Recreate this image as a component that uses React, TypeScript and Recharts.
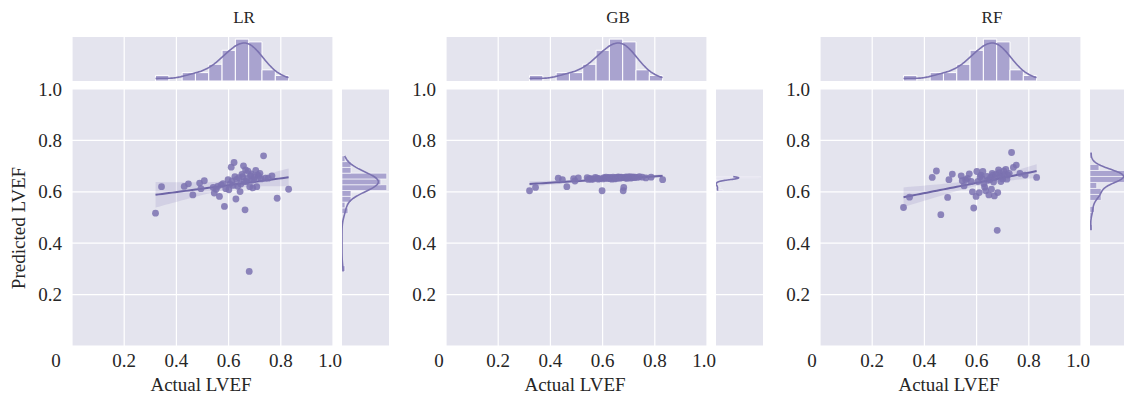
import {
  ComposedChart,
  Scatter,
  Line,
  Area,
  XAxis,
  YAxis,
  CartesianGrid,
  ReferenceArea,
} from "recharts";

// ──────────────────────────────────────────────
// Data
// ──────────────────────────────────────────────

const models = ["LR", "GB", "RF"];

const actualLVEF = [
  0.32, 0.343, 0.43, 0.446, 0.463, 0.489, 0.494, 0.507, 0.541, 0.545,
  0.552, 0.558, 0.565, 0.572, 0.579, 0.584, 0.589, 0.598, 0.601, 0.605,
  0.61, 0.613, 0.617, 0.621, 0.624, 0.628, 0.631, 0.635, 0.64, 0.644,
  0.647, 0.651, 0.654, 0.657, 0.66, 0.663, 0.665, 0.668, 0.671, 0.674,
  0.679, 0.681, 0.684, 0.687, 0.69, 0.693, 0.697, 0.7, 0.704, 0.708,
  0.712, 0.716, 0.72, 0.725, 0.734, 0.741, 0.752, 0.766, 0.786, 0.83,
];

const predLR = [
  0.517, 0.62, 0.621, 0.631, 0.588, 0.634, 0.612, 0.643, 0.617, 0.595,
  0.61, 0.621, 0.582, 0.627, 0.632, 0.543, 0.612, 0.647, 0.608, 0.63,
  0.696, 0.642, 0.625, 0.714, 0.659, 0.572, 0.648, 0.622, 0.655, 0.601,
  0.63, 0.668, 0.659, 0.701, 0.64, 0.53, 0.685, 0.64, 0.652, 0.68,
  0.29, 0.62, 0.663, 0.67, 0.645, 0.615, 0.648, 0.658, 0.683, 0.62,
  0.666, 0.66, 0.672, 0.65, 0.74, 0.653, 0.653, 0.662, 0.575, 0.61,
];

const predGB = [
  0.604, 0.617, 0.653, 0.647, 0.62, 0.651, 0.642, 0.654, 0.655, 0.648,
  0.652, 0.648, 0.65, 0.656, 0.653, 0.649, 0.651, 0.604, 0.65, 0.655,
  0.653, 0.657, 0.652, 0.654, 0.656, 0.651, 0.655, 0.649, 0.657, 0.653,
  0.65, 0.656, 0.652, 0.655, 0.658, 0.654, 0.656, 0.653, 0.657, 0.655,
  0.604, 0.617, 0.656, 0.654, 0.658, 0.652, 0.657, 0.655, 0.659, 0.653,
  0.656, 0.658, 0.655, 0.657, 0.656, 0.659, 0.657, 0.654, 0.657, 0.647,
];

const predRF = [
  0.539, 0.579, 0.656, 0.681, 0.511, 0.578, 0.647, 0.669, 0.662, 0.643,
  0.623, 0.647, 0.652, 0.67, 0.64, 0.6, 0.537, 0.582, 0.679, 0.64,
  0.597, 0.658, 0.665, 0.652, 0.679, 0.63, 0.618, 0.604, 0.66, 0.645,
  0.588, 0.647, 0.657, 0.61, 0.672, 0.665, 0.638, 0.584, 0.655, 0.668,
  0.45, 0.597, 0.685, 0.675, 0.662, 0.64, 0.66, 0.65, 0.681, 0.668,
  0.687, 0.649, 0.665, 0.672, 0.753, 0.695, 0.704, 0.672, 0.665, 0.656,
];

const predictions = [predLR, predGB, predRF];

const xTicks = [0, 0.2, 0.4, 0.6, 0.8, 1.0];
const yTicks = [0.2, 0.4, 0.6, 0.8, 1.0];

// ──────────────────────────────────────────────
// Style / layout
// ──────────────────────────────────────────────

const BG = "#e4e4ee";
const PURPLE = "#7b72b0";
const LINE = "#6d64a6";
const BAR = "#a9a3cf";
const TEXT = "#262626";
const FONT = "'Liberation Serif', 'DejaVu Serif', serif";
const TICK_SIZE = 19;

const PANEL_STEP = 374;
const PLOT_LEFT = 72;
const PLOT_TOP = 89;
const PLOT_W = 261;
const PLOT_H = 257;
const TOP_Y = 37;
const TOP_H = 44;
const SIDE_GAP = 10;
const SIDE_W = 47;
const RIGHT_PAD = 20;
const ZERO_SHIFT = [16, 7, 8];

// ──────────────────────────────────────────────
// Helpers
// ──────────────────────────────────────────────

function mean(a: number[]) {
  return a.reduce((s, v) => s + v, 0) / a.length;
}

function std(a: number[]) {
  const m = mean(a);
  return Math.sqrt(a.reduce((s, v) => s + (v - m) ** 2, 0) / (a.length - 1));
}

function quantile(sorted: number[], q: number) {
  const idx = q * (sorted.length - 1);
  const lo = Math.floor(idx);
  const hi = Math.min(lo + 1, sorted.length - 1);
  return sorted[lo] + (sorted[hi] - sorted[lo]) * (idx - lo);
}

// numpy "auto" bins
function histogram(values: number[]) {
  const sorted = [...values].sort((a, b) => a - b);
  const n = sorted.length;
  const min = sorted[0];
  const max = sorted[n - 1];
  const range = max - min;
  const sturges = range / (Math.log2(n) + 1);
  const iqr = quantile(sorted, 0.75) - quantile(sorted, 0.25);
  const fd = (2 * iqr) / Math.cbrt(n);
  const width = fd > 0 ? Math.min(fd, sturges) : sturges;
  const nb = Math.max(1, Math.ceil(range / width - 1e-9));
  const bw = range / nb;
  const counts = new Array(nb).fill(0);
  for (const v of values) {
    let i = Math.floor((v - min) / bw);
    if (i >= nb) i = nb - 1;
    counts[i] += 1;
  }
  return { bw, bins: counts.map((c, i) => ({ lo: min + i * bw, hi: min + (i + 1) * bw, count: c })) };
}

// gaussian kde (scott), cut at the data range, scaled to counts
function kde(values: number[], scale: number, steps = 120) {
  const n = values.length;
  const h = std(values) * Math.pow(n, -0.2);
  const min = Math.min(...values);
  const max = Math.max(...values);
  const out: { v: number; d: number }[] = [];
  for (let i = 0; i <= steps; i++) {
    const v = min + ((max - min) * i) / steps;
    let s = 0;
    for (const x of values) s += Math.exp(-0.5 * ((v - x) / h) ** 2);
    out.push({ v, d: (s / (n * h * Math.sqrt(2 * Math.PI))) * scale });
  }
  return out;
}

function regressionBand(xs: number[], ys: number[], steps = 40) {
  const n = xs.length;
  const mx = mean(xs);
  const my = mean(ys);
  let sxx = 0;
  let sxy = 0;
  xs.forEach((x, i) => {
    sxx += (x - mx) ** 2;
    sxy += (x - mx) * (ys[i] - my);
  });
  const b = sxy / sxx;
  const a = my - b * mx;
  const sse = xs.reduce((s, x, i) => s + (ys[i] - (a + b * x)) ** 2, 0);
  const s = Math.sqrt(sse / (n - 2));
  const min = Math.min(...xs);
  const max = Math.max(...xs);
  const out = [];
  for (let i = 0; i <= steps; i++) {
    const x = min + ((max - min) * i) / steps;
    const fit = a + b * x;
    const se = s * Math.sqrt(1 / n + (x - mx) ** 2 / sxx);
    out.push({ x, fit, band: [fit - 1.98 * se, fit + 1.98 * se] });
  }
  return out;
}

// ──────────────────────────────────────────────
// Ticks
// ──────────────────────────────────────────────

function renderXTick(props: any, zeroShift: number) {
  const { x, payload } = props;
  const v = payload.value;
  const isZero = v === 0;
  return (
    <text
      x={isZero ? x - zeroShift : v === 1 ? x - 3 : x}
      y={9 + PLOT_H + 21}
      textAnchor="middle"
      fill={TEXT}
      fontSize={TICK_SIZE}
      fontFamily={FONT}
    >
      {isZero ? "0" : v.toFixed(1)}
    </text>
  );
}

function renderYTick(props: any) {
  const { y, payload } = props;
  return (
    <text
      x={PLOT_LEFT - 10}
      y={y + 6.5}
      textAnchor="end"
      fill={TEXT}
      fontSize={TICK_SIZE}
      fontFamily={FONT}
    >
      {payload.value.toFixed(1)}
    </text>
  );
}

const Dot = (p: any) => <circle cx={p.cx} cy={p.cy} r={3.4} fill={PURPLE} fillOpacity={0.85} />;

// ──────────────────────────────────────────────
// Panels
// ──────────────────────────────────────────────

function MainPanel({ ys, idx }: { ys: number[]; idx: number }) {
  const points = actualLVEF.map((x, i) => ({ x, y: ys[i] }));
  const band = regressionBand(actualLVEF, ys);
  const left = PLOT_LEFT + idx * PANEL_STEP;
  return (
    <div style={{ position: "absolute", left: left - PLOT_LEFT, top: PLOT_TOP - 9 }}>
      <ComposedChart
        width={PLOT_LEFT + PLOT_W + RIGHT_PAD}
        height={9 + PLOT_H + 54}
        data={band}
        margin={{ top: 9, right: RIGHT_PAD, bottom: 0, left: 0 }}
      >
        <CartesianGrid fill={BG} fillOpacity={1} stroke="#fff" strokeWidth={1.2} />
        <XAxis
          type="number"
          dataKey="x"
          domain={[0, 1]}
          ticks={xTicks}
          interval={0}
          height={54}
          tickLine={false}
          axisLine={false}
          allowDataOverflow
          tick={(p: any) => renderXTick(p, ZERO_SHIFT[idx])}
        />
        <YAxis
          type="number"
          domain={[0, 1]}
          ticks={yTicks}
          interval={0}
          width={PLOT_LEFT}
          tickLine={false}
          axisLine={false}
          allowDataOverflow
          tick={renderYTick}
        />
        <Area
          type="linear"
          dataKey="band"
          fill={PURPLE}
          fillOpacity={0.17}
          stroke="none"
          isAnimationActive={false}
        />
        <Scatter data={points} dataKey="y" shape={Dot} isAnimationActive={false} />
        <Line
          type="linear"
          dataKey="fit"
          stroke={LINE}
          strokeWidth={2}
          dot={false}
          isAnimationActive={false}
        />
      </ComposedChart>
    </div>
  );
}

function TopMarginal({ idx }: { idx: number }) {
  const { bw, bins } = histogram(actualLVEF);
  const curve = kde(actualLVEF, actualLVEF.length * bw).map((p) => ({ x: p.v, k: p.d }));
  const ymax = Math.max(...bins.map((b) => b.count), ...curve.map((c) => c.k)) * 1.05;
  return (
    <div style={{ position: "absolute", left: PLOT_LEFT + idx * PANEL_STEP, top: TOP_Y }}>
      <ComposedChart width={PLOT_W} height={TOP_H} data={curve} margin={{ top: 0, right: 0, bottom: 0, left: 0 }}>
        <CartesianGrid fill={BG} fillOpacity={1} stroke="#fff" strokeWidth={1.2} horizontal={false} />
        <XAxis type="number" dataKey="x" domain={[0, 1]} ticks={xTicks} interval={0} hide />
        <YAxis type="number" domain={[0, ymax]} hide />
        {bins
          .filter((b) => b.count > 0)
          .map((b, i) => (
            <ReferenceArea
              key={i}
              x1={b.lo}
              x2={b.hi}
              y1={0}
              y2={b.count}
              fill={BAR}
              fillOpacity={1}
              stroke="#fff"
              strokeWidth={1}
              ifOverflow="visible"
            />
          ))}
        <Line type="monotone" dataKey="k" stroke={PURPLE} strokeWidth={1.6} dot={false} isAnimationActive={false} />
      </ComposedChart>
    </div>
  );
}

function SideMarginal({ ys, idx }: { ys: number[]; idx: number }) {
  const { bw, bins } = histogram(ys);
  const curve = kde(ys, ys.length * bw).map((p) => ({ c: p.d, v: p.v }));
  const cmax = Math.max(...bins.map((b) => b.count), ...curve.map((c) => c.c)) * 1.05;
  return (
    <div
      style={{
        position: "absolute",
        left: PLOT_LEFT + idx * PANEL_STEP + PLOT_W + SIDE_GAP - 1,
        top: PLOT_TOP,
      }}
    >
      <ComposedChart width={SIDE_W} height={PLOT_H} data={curve} margin={{ top: 0, right: 0, bottom: 0, left: 0 }}>
        <CartesianGrid fill={BG} fillOpacity={1} stroke="#fff" strokeWidth={1.2} vertical={false} />
        <XAxis type="number" dataKey="c" domain={[0, cmax]} hide />
        <YAxis type="number" domain={[0, 1]} ticks={yTicks} interval={0} hide />
        {bins
          .filter((b) => b.count > 0)
          .map((b, i) => (
            <ReferenceArea
              key={i}
              x1={0}
              x2={b.count}
              y1={b.lo}
              y2={b.hi}
              fill={BAR}
              fillOpacity={1}
              stroke="#fff"
              strokeWidth={0.6}
              ifOverflow="visible"
            />
          ))}
        <Line type="linear" dataKey="v" stroke={PURPLE} strokeWidth={1.6} dot={false} isAnimationActive={false} />
      </ComposedChart>
    </div>
  );
}

// ──────────────────────────────────────────────
// App
// ──────────────────────────────────────────────

export default function App() {
  return (
    <div
      style={{
        position: "absolute",
        left: 0,
        top: 0,
        width: 1124,
        height: 398,
        overflow: "hidden",
        background: "#fff",
      }}
    >
      {models.map((m, i) => (
        <div key={m}>
          <TopMarginal idx={i} />
          <SideMarginal ys={predictions[i]} idx={i} />
          <MainPanel ys={predictions[i]} idx={i} />
        </div>
      ))}
      <svg
        width={1124}
        height={398}
        style={{ position: "absolute", left: 0, top: 0, pointerEvents: "none" }}
        fontFamily={FONT}
        fill={TEXT}
      >
        {models.map((m, i) => (
          <g key={m}>
            <text x={PLOT_LEFT + i * PANEL_STEP + 172} y={23} textAnchor="middle" fontSize={17}>
              {m}
            </text>
            <text x={PLOT_LEFT + i * PANEL_STEP + 129} y={391} textAnchor="middle" fontSize={19}>
              Actual LVEF
            </text>
          </g>
        ))}
        <text transform="translate(25,228) rotate(-90)" textAnchor="middle" fontSize={19}>
          Predicted LVEF
        </text>
      </svg>
    </div>
  );
}
